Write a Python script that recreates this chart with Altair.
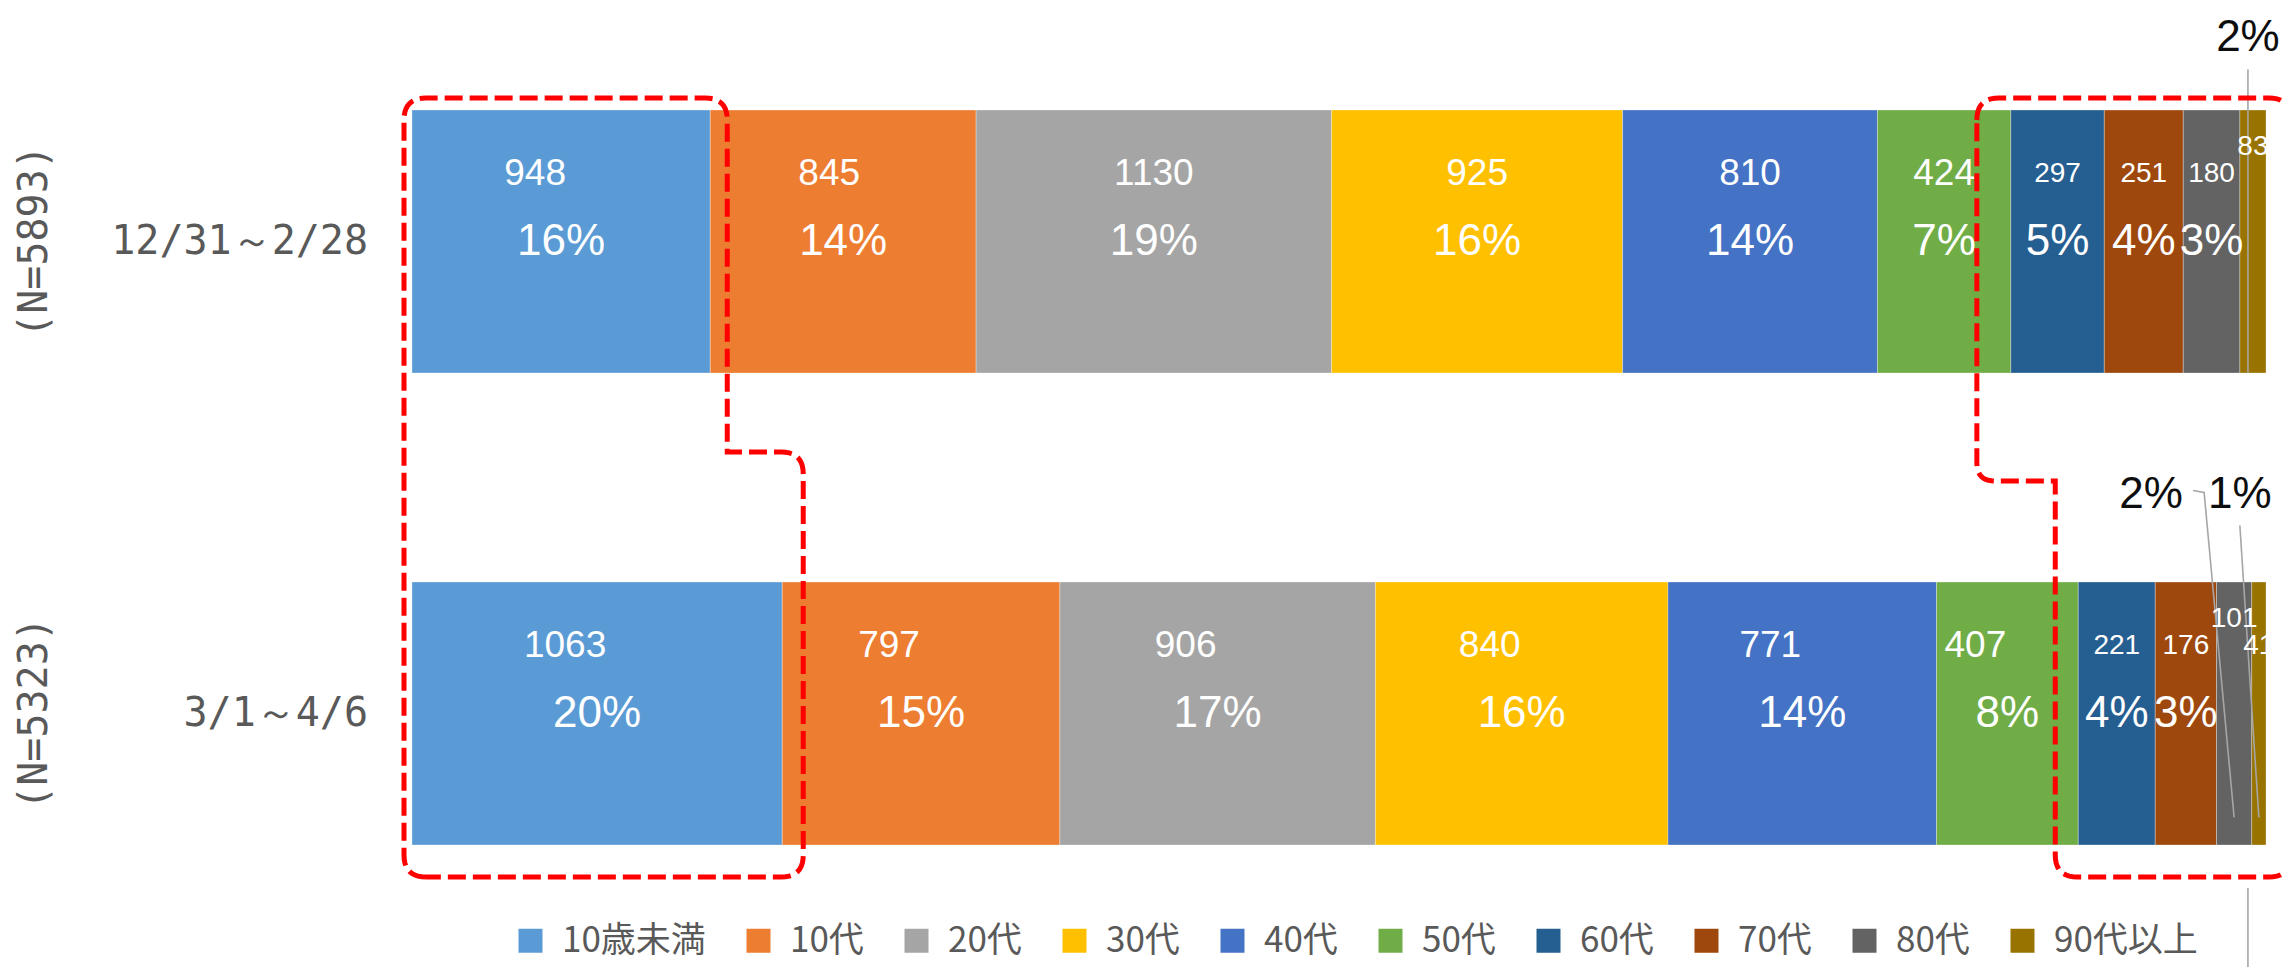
import altair as alt
import numpy as np
import pandas as pd

# ---------------- data ----------------
periods = ["12/31～2/28", "3/1～4/6"]
n_labels = ["(N=5893)", "(N=5323)"]
age_groups = ["10歳未満", "10代", "20代", "30代", "40代", "50代", "60代", "70代", "80代", "90代以上"]
colors = ["#5B9BD5", "#ED7D31", "#A5A5A5", "#FFC000", "#4472C4",
          "#70AD47", "#255E91", "#9E480E", "#636363", "#997300"]
counts_p1 = [948, 845, 1130, 925, 810, 424, 297, 251, 180, 83]
counts_p2 = [1063, 797, 906, 840, 771, 407, 221, 176, 101, 41]
pct_labels_p1 = ["16%", "14%", "19%", "16%", "14%", "7%", "5%", "4%", "3%", "2%"]
pct_labels_p2 = ["20%", "15%", "17%", "16%", "14%", "8%", "4%", "3%", "2%", "1%"]

# ---------------- layout (svg pixels) ----------------
W, H = 2275, 959
BAR_X0, BAR_X1 = 404, 2258
ROW1_Y, ROW_STEP = 233.5, 472.0
BAR_HALF = 131.5
PX_PER_PCT = (BAR_X1 - BAR_X0) / 100.0

x_domain = [(0 - BAR_X0) / PX_PER_PCT, (W - BAR_X0) / PX_PER_PCT]
y_domain = [1 + (0 - ROW1_Y) / ROW_STEP, 1 + (H - ROW1_Y) / ROW_STEP]


def to_x(px):
    return (px - BAR_X0) / PX_PER_PCT


def to_y(py):
    return 1 + (py - ROW1_Y) / ROW_STEP


def px_of_x(v):
    return BAR_X0 + v * PX_PER_PCT


def px_of_y(v):
    return ROW1_Y + (v - 1) * ROW_STEP


xs = alt.Scale(domain=x_domain, nice=False, zero=False)
ys = alt.Scale(domain=y_domain, reverse=True, nice=False, zero=False)

# ---------------- segments ----------------
rows = []
for r, (period, counts, plabels) in enumerate(
        zip(periods, [counts_p1, counts_p2], [pct_labels_p1, pct_labels_p2]), start=1):
    total = sum(counts)
    cum = 0
    for k, (age, c, pl) in enumerate(zip(age_groups, counts, plabels)):
        x0 = cum / total * 100
        cum += c
        x1 = cum / total * 100
        share = c / total * 100
        lifted = 1.0 <= share < 2.0
        big = share >= 6
        if r == 2 and big:
            shift = -32
        elif r == 1 and k == 0:
            shift = -26
        elif r == 1 and k == 1:
            shift = -14
        else:
            shift = 0
        rows.append(dict(
            period=period, row=r, age=age, order=k, count=c, share=share,
            x0=x0, x1=x1, xm=(x0 + x1) / 2,
            xc=(x0 + x1) / 2 + shift / PX_PER_PCT,
            y0=r - BAR_HALF / ROW_STEP, y1=r + BAR_HALF / ROW_STEP,
            yc=r - (95 if lifted else 68) / ROW_STEP,
            fs=37 if big else 28,
            pct_label=pl, inside=share >= 2.5,
        ))
seg = pd.DataFrame(rows)

bars = alt.Chart(seg).mark_bar(stroke="#ffffff", strokeWidth=0.6, strokeOpacity=0.5).encode(
    x=alt.X("x0:Q", scale=xs, axis=None),
    x2="x1:Q",
    y=alt.Y("y0:Q", scale=ys, axis=None),
    y2="y1:Q",
    color=alt.Color(
        "age:N",
        scale=alt.Scale(domain=age_groups, range=colors),
        legend=alt.Legend(
            orient="none", legendX=505, legendY=915, direction="horizontal",
            title=None, symbolType="square", symbolSize=576, symbolStrokeWidth=0,
            symbolOpacity=1, labelFont="Noto Sans CJK JP", labelFontSize=35,
            labelColor="#595959", labelOffset=14, columnPadding=35, padding=0,
            labelLimit=500,
        ),
    ),
    order=alt.Order("order:Q"),
)

count_text = alt.Chart(seg).mark_text(
    color="white", font="Liberation Sans", align="center", baseline="middle"
).encode(
    x=alt.X("xc:Q", scale=xs, axis=None),
    y=alt.Y("yc:Q", scale=ys, axis=None),
    text="count:Q",
    size=alt.Size("fs:Q", scale=None, legend=None),
)

pct_text = alt.Chart(seg[seg["inside"]]).mark_text(
    color="white", font="Liberation Sans", fontSize=44, align="center", baseline="middle"
).encode(
    x=alt.X("xm:Q", scale=xs, axis=None),
    y=alt.Y("row:Q", scale=ys, axis=None),
    text="pct_label:N",
)

# ---------------- outside labels and leaders ----------------
outside = {  # (row, age): label offset (px) from segment centre / row centre
    (1, "90代以上"): (-5, -204),
    (2, "80代"): (-83, -219),
    (2, "90代以上"): (-19, -219),
}
out_rows, lead_rows = [], []
label_px = {}
for (r, age), (ox, oy) in outside.items():
    s = seg[(seg["row"] == r) & (seg["age"] == age)].iloc[0]
    cx, cy = px_of_x(s["xm"]), px_of_y(r)
    lx, ly = cx + ox, cy + oy
    label_px[(r, age)] = (lx, ly, cx, cy)
    out_rows.append(dict(x=to_x(lx), y=to_y(ly), text=s["pct_label"]))

lx, ly, cx, cy = label_px[(1, "90代以上")]
paths = {
    "a": [(lx, ly + 32), (lx, cy + BAR_HALF)],
}
lx2, ly2, cx2, cy2 = label_px[(2, "80代")]
paths["b"] = [(lx2 + 42, ly2 - 4), (lx2 + 53, ly2 - 2), (cx2, cy2 + 104)]
lx3, ly3, cx3, cy3 = label_px[(2, "90代以上")]
paths["c"] = [(lx3, ly3 + 31), (cx3, cy3 + 104)]

outdf = pd.DataFrame(out_rows)

out_text = alt.Chart(outdf).mark_text(
    color="#0d0d0d", font="Liberation Sans", fontSize=44, align="center", baseline="middle"
).encode(
    x=alt.X("x:Q", scale=xs, axis=None),
    y=alt.Y("y:Q", scale=ys, axis=None),
    text="text:N",
)

# ---------------- red dashed outlines ----------------
bar1_top = px_of_y(1) - BAR_HALF
bar1_bot = px_of_y(1) + BAR_HALF
bar2_bot = px_of_y(2) + BAR_HALF
T = bar1_top - 12
B = bar2_bot + 32

paths["z"] = [(lx, B + 11), (lx, H + 5)]

for name, pts in paths.items():
    for i, (px, py) in enumerate(pts):
        lead_rows.append(dict(path=name, i=i, x=to_x(px), y=to_y(py)))
leaddf = pd.DataFrame(lead_rows)

leaders = alt.Chart(leaddf).mark_line(color="#A6A6A6", strokeWidth=1.6, clip=True).encode(
    x=alt.X("x:Q", scale=xs, axis=None),
    y=alt.Y("y:Q", scale=ys, axis=None),
    detail="path:N",
    order=alt.Order("i:Q"),
)


def seg_edge(r, age, which):
    s = seg[(seg["row"] == r) & (seg["age"] == age)].iloc[0]
    return px_of_x(s[which])


def rounded_path(verts, radii, n=10):
    pts = []
    m = len(verts)
    for j in range(m):
        p = np.array(verts[j], float)
        rad = radii[j]
        if rad == 0:
            pts.append(p)
            continue
        prev = np.array(verts[j - 1], float)
        nxt = np.array(verts[(j + 1) % m], float)
        d1 = (prev - p) / np.linalg.norm(prev - p)
        d2 = (nxt - p) / np.linalg.norm(nxt - p)
        a = p + d1 * rad
        b = p + d2 * rad
        for t in np.linspace(0, 1, n + 1):
            pts.append((1 - t) ** 2 * a + 2 * (1 - t) * t * p + t ** 2 * b)
    pts.append(pts[0])
    return pts


L = BAR_X0 - 8
R1 = seg_edge(1, "10歳未満", "x1") + 17
R2 = seg_edge(2, "10歳未満", "x1") + 21
S1 = bar1_bot + 79
left_box = rounded_path(
    [(L, B), (L, T), (R1, T), (R1, S1), (R2, S1), (R2, B)],
    [22, 22, 22, 0, 22, 22])

L1 = seg_edge(1, "60代", "x0") - 34
Ls = seg_edge(2, "60代", "x0") - 23
S2 = bar1_bot + 108
RR = W + 8
right_box = rounded_path(
    [(L1, T), (RR, T), (RR, B), (Ls, B), (Ls, S2), (L1, S2)],
    [22, 22, 22, 22, 0, 18])

box_rows = []
for name, pts in (("left", left_box), ("right", right_box)):
    for i, (px, py) in enumerate(pts):
        box_rows.append(dict(shape=name, i=i, x=to_x(px), y=to_y(py)))
boxdf = pd.DataFrame(box_rows)

boxes = alt.Chart(boxdf).mark_line(
    color="#FF0000", strokeWidth=5, strokeDash=[18, 7], strokeCap="butt", clip=True
).encode(
    x=alt.X("x:Q", scale=xs, axis=None),
    y=alt.Y("y:Q", scale=ys, axis=None),
    detail="shape:N",
    order=alt.Order("i:Q"),
)

# ---------------- category labels ----------------
catdf = pd.DataFrame(dict(
    period=periods, n=n_labels, row=[1, 2],
    zero=[0.0, 0.0], nx=[to_x(BAR_X0 - 377)] * 2,
))

cat_text = alt.Chart(catdf).mark_text(
    font="DejaVu Sans Mono", fontSize=40, color="#595959",
    align="right", baseline="middle", dx=-44,
).encode(
    x=alt.X("zero:Q", scale=xs, axis=None),
    y=alt.Y("row:Q", scale=ys, axis=None),
    text="period:N",
)

n_text = alt.Chart(catdf).mark_text(
    font="DejaVu Sans Mono", fontSize=40, color="#595959",
    align="center", baseline="middle", angle=270,
).encode(
    x=alt.X("nx:Q", scale=xs, axis=None),
    y=alt.Y("row:Q", scale=ys, axis=None),
    text="n:N",
)

chart = alt.layer(
    bars, leaders, count_text, pct_text, out_text, boxes, cat_text, n_text
).properties(
    width=W, height=H, padding=0,
    autosize=alt.AutoSizeParams(type="none"),
    background="white",
).configure_view(stroke=None)

chart.save("out.html", embed_options={"renderer": "svg", "actions": False})
